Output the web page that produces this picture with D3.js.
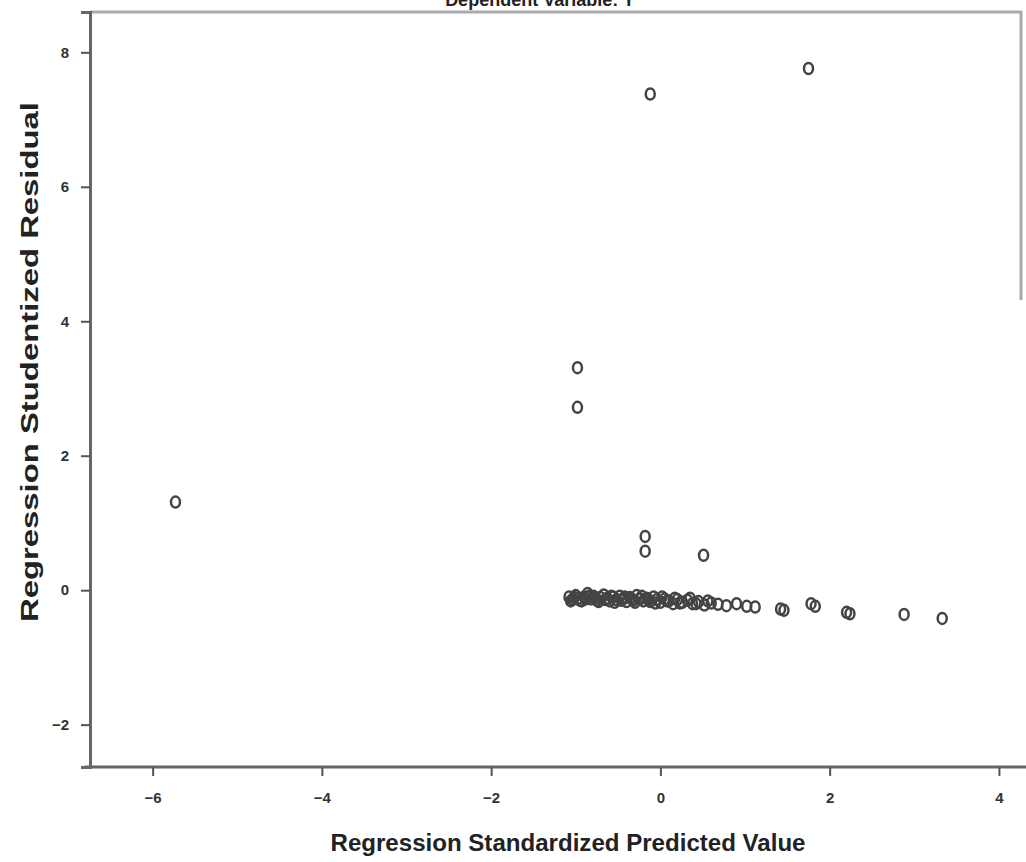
<!DOCTYPE html>
<html>
<head>
<meta charset="utf-8">
<script src="https://cdn.jsdelivr.net/npm/d3@7"></script>
<style>
  body { margin: 0; background: #fff; }
  .tick text { font-family: "Liberation Sans", Arial, sans-serif; font-weight: bold; font-size: 15px; fill: #333; }
  .lbl { font-family: "Liberation Sans Narrow", "Liberation Sans", Arial, sans-serif; font-weight: bold; font-size: 23px; fill: #222; }
</style>
</head>
<body>
<script>
//chart values
var predicted = [-5.73, -0.98, -0.98, -0.12, 1.75, -0.18, -0.18, 0.51, 1.42, 1.46, 1.78, 1.83, 2.2, 2.24, 2.88, 3.33,
    -1.08, -1.04, -1.0, -0.97, -0.93, -0.9, -0.86, -0.82, -0.79, -0.75, -0.71, -0.67, -0.63, -0.6, -0.56, -0.52,
    -0.48, -0.44, -0.4, -0.36, -0.32, -0.28, -0.24, -0.2, -0.16, -0.12, -0.08, -0.04, 0.0, 0.05, 0.1, 0.15,
    0.2, 0.26, 0.32, 0.38, 0.45, 0.52, 0.6, 0.68, 0.78, 0.9, 1.02, 1.12,
    -1.06, -1.02, -0.95, -0.88, -0.84, -0.77, -0.73, -0.65, -0.58, -0.54, -0.46, -0.42, -0.34, -0.3, -0.22,
    -0.14, -0.06, 0.02, 0.08, 0.17, 0.23, 0.35, 0.42, 0.56];
var residual = [1.31, 3.31, 2.72, 7.38, 7.76, 0.8, 0.58, 0.52, -0.28, -0.3, -0.2, -0.24, -0.33, -0.35, -0.36, -0.42,
    -0.1, -0.14, -0.08, -0.12, -0.16, -0.1, -0.05, -0.13, -0.09, -0.15, -0.11, -0.07, -0.12, -0.16, -0.1, -0.14,
    -0.09, -0.13, -0.17, -0.11, -0.15, -0.08, -0.13, -0.16, -0.12, -0.17, -0.1, -0.14, -0.18, -0.13, -0.16, -0.2,
    -0.14, -0.18, -0.15, -0.2, -0.17, -0.22, -0.19, -0.21, -0.23, -0.2, -0.24, -0.25,
    -0.16, -0.11, -0.15, -0.13, -0.09, -0.12, -0.17, -0.14, -0.09, -0.18, -0.15, -0.1, -0.13, -0.18, -0.09,
    -0.14, -0.19, -0.1, -0.16, -0.12, -0.19, -0.12, -0.2, -0.16];
var xTicks = [-6, -4, -2, 0, 2, 4];
var yTicks = [-2, 0, 2, 4, 6, 8];
var titleText = "Dependent Variable: Y";
var xTitle = "Regression Standardized Predicted Value";
var yTitle = "Regression Studentized Residual";

var width = 1026, height = 862;

var svg = d3.select("body").append("svg")
    .attr("width", width)
    .attr("height", height);

var x = d3.scaleLinear().domain([-6.74, 4.32]).range([90, 1026]);
var y = d3.scaleLinear().domain([-2.63, 8.6]).range([767, 12]);

//frame top and right
svg.append("path")
    .attr("d", "M90,12H1021V300")
    .attr("fill", "none")
    .attr("stroke", "#aaa")
    .attr("stroke-width", 3);

//axes
var xAxis = svg.append("g")
    .attr("transform", "translate(0,767)")
    .call(d3.axisBottom(x).tickValues(xTicks).tickSize(9).tickPadding(16).tickFormat(d3.format("d")));
var yAxis = svg.append("g")
    .attr("transform", "translate(90,0)")
    .call(d3.axisLeft(y).tickValues(yTicks).tickSize(9).tickPadding(12).tickFormat(d3.format("d")));

[xAxis, yAxis].forEach(function(ax){
    ax.select(".domain").attr("stroke", "#666").attr("stroke-width", 3);
    ax.selectAll(".tick line").attr("stroke", "#555").attr("stroke-width", 2);
});
xAxis.select(".domain").attr("d", "M85,0H1026");

//points
svg.selectAll(".pt")
    .data(d3.range(predicted.length))
    .enter()
    .append("ellipse")
    .attr("class", "pt")
    .attr("cx", function(i){ return x(predicted[i]); })
    .attr("cy", function(i){ return y(residual[i]); })
    .attr("rx", 4.5)
    .attr("ry", 5.5)
    .attr("fill", "none")
    .attr("stroke", "#444")
    .attr("stroke-width", 2.5);

//titles
svg.append("text")
    .attr("class", "lbl")
    .attr("x", 540)
    .attr("y", 6)
    .attr("text-anchor", "middle")
    .style("font-size", "18px")
    .text(titleText);

svg.append("text")
    .attr("class", "lbl")
    .attr("x", 568)
    .attr("y", 851)
    .attr("text-anchor", "middle")
    .attr("textLength", 475)
    .attr("lengthAdjust", "spacingAndGlyphs")
    .text(xTitle);

svg.append("text")
    .attr("class", "lbl")
    .attr("transform", "translate(38,362) rotate(-90)")
    .attr("text-anchor", "middle")
    .attr("textLength", 520)
    .attr("lengthAdjust", "spacingAndGlyphs")
    .text(yTitle);
</script>
</body>
</html>
